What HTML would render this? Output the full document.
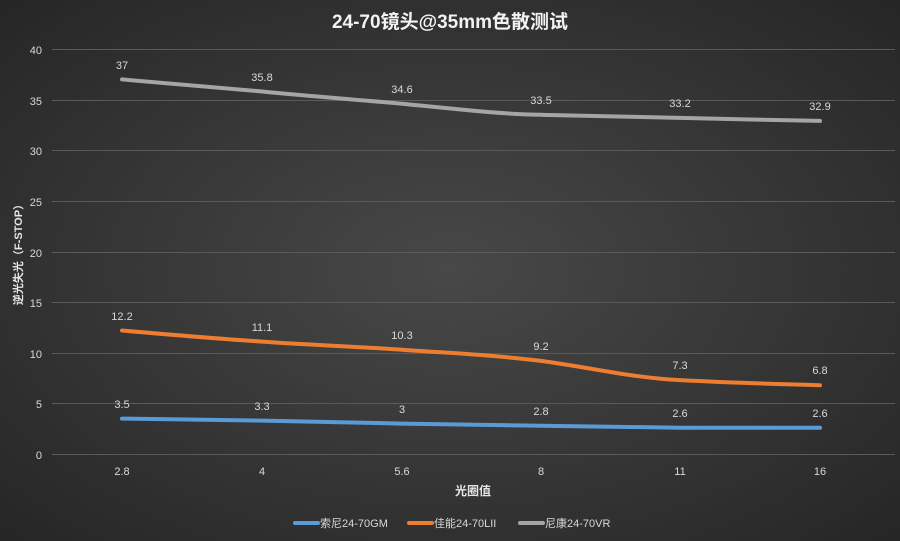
<!DOCTYPE html>
<html><head><meta charset="utf-8"><style>
html,body{margin:0;padding:0;width:900px;height:541px;overflow:hidden;background:#333}
svg{display:block}
text{font-family:"Liberation Sans","Noto Sans CJK SC",sans-serif}
</style></head><body>
<svg width="900" height="541" viewBox="0 0 900 541">
<defs>
<radialGradient id="bg" cx="50%" cy="50%" r="70%">
<stop offset="0" stop-color="#484848"/><stop offset="1" stop-color="#262626"/>
</radialGradient>
</defs>
<rect width="900" height="541" fill="url(#bg)"/>
<text x="450" y="28" fill="#f2f2f2" font-size="19" font-weight="bold" text-anchor="middle">24-70镜头@35mm色散测试</text>
<g stroke="#5a5a5a" stroke-width="1">
<line x1="52" x2="895" y1="49.5" y2="49.5"/><line x1="52" x2="895" y1="100.5" y2="100.5"/>
<line x1="52" x2="895" y1="150.5" y2="150.5"/><line x1="52" x2="895" y1="201.5" y2="201.5"/>
<line x1="52" x2="895" y1="252.5" y2="252.5"/><line x1="52" x2="895" y1="302.5" y2="302.5"/>
<line x1="52" x2="895" y1="353.5" y2="353.5"/><line x1="52" x2="895" y1="403.5" y2="403.5"/>
<line x1="52" x2="895" y1="454.5" y2="454.5"/>
</g>
<g fill="#d9d9d9" font-size="11" text-anchor="end">
<text x="42" y="54">40</text><text x="42" y="105">35</text><text x="42" y="155">30</text>
<text x="42" y="206">25</text><text x="42" y="257">20</text><text x="42" y="307">15</text>
<text x="42" y="358">10</text><text x="42" y="408">5</text><text x="42" y="459">0</text>
</g>
<g fill="#d9d9d9" font-size="11" text-anchor="middle">
<text x="122" y="475">2.8</text><text x="262" y="475">4</text><text x="402" y="475">5.6</text>
<text x="541" y="475">8</text><text x="680" y="475">11</text><text x="820" y="475">16</text>
</g>
<text x="473" y="495" fill="#e6e6e6" font-size="12" font-weight="bold" text-anchor="middle">光圈值</text>
<text transform="translate(22,252) rotate(-90)" fill="#e6e6e6" font-size="11" font-weight="bold" text-anchor="middle">逆光失光（F-STOP）</text>
<g fill="none" stroke-width="4" stroke-linejoin="round" stroke-linecap="round">
<path stroke="#a5a5a5" d="M122,79.4 C168,83 215,87.5 262,91.5 C308,96 355,99.5 402,103.7 C448,108 494,114 541,114.8 C587,116 633,116.8 680,117.9 C727,119 773,120 820,120.9"/>
<path stroke="#ed7d31" d="M122,330.5 C168,334.5 215,338.5 262,341.6 C308,344.8 355,346.5 402,349.7 C448,353 494,355 541,360.9 C587,367 633,378 680,380.1 C727,382.5 773,384 820,385.2"/>
<path stroke="#5b9bd5" d="M122,418.6 L262,420.6 L402,423.6 L541,425.7 L680,427.7 L820,427.7"/>
</g>
<g fill="#d9d9d9" font-size="11" text-anchor="middle">
<text x="122" y="69">37</text><text x="262" y="81">35.8</text><text x="402" y="93">34.6</text>
<text x="541" y="104">33.5</text><text x="680" y="107">33.2</text><text x="820" y="110">32.9</text>
<text x="122" y="320">12.2</text><text x="262" y="331">11.1</text><text x="402" y="339">10.3</text>
<text x="541" y="350">9.2</text><text x="680" y="369">7.3</text><text x="820" y="374">6.8</text>
<text x="122" y="408">3.5</text><text x="262" y="410">3.3</text><text x="402" y="413">3</text>
<text x="541" y="415">2.8</text><text x="680" y="417">2.6</text><text x="820" y="417">2.6</text>
</g>
<g stroke-width="4" stroke-linecap="round">
<line x1="295" x2="318" y1="523" y2="523" stroke="#5b9bd5"/>
<line x1="409" x2="432" y1="523" y2="523" stroke="#ed7d31"/>
<line x1="520" x2="543" y1="523" y2="523" stroke="#a5a5a5"/>
</g>
<g fill="#d9d9d9" font-size="11">
<text x="320" y="527">索尼24-70GM</text><text x="434" y="527">佳能24-70LII</text><text x="545" y="527">尼康24-70VR</text>
</g>
</svg>
</body></html>
